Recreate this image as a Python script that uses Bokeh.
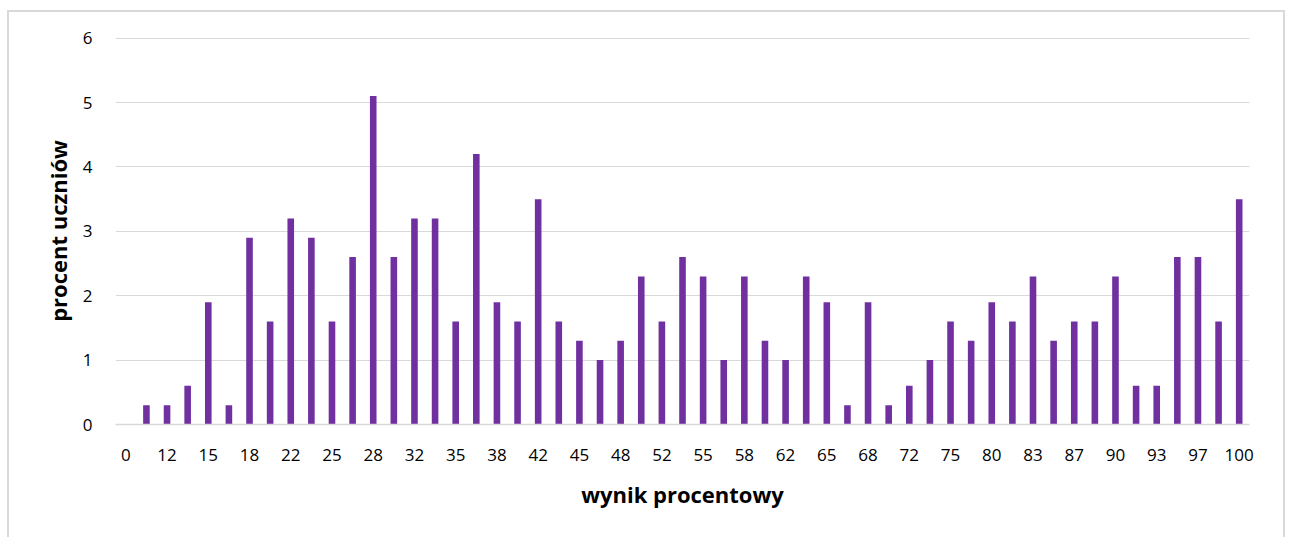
from bokeh.plotting import figure
from bokeh.models import ColumnDataSource, FixedTicker, Range1d
from bokeh.embed import file_html
from bokeh.resources import INLINE

categories = ["0", "10", "12", "13", "15", "17", "18", "20", "22", "23", "25", "27",
              "28", "30", "32", "33", "35", "37", "38", "40", "42", "43", "45", "47",
              "48", "50", "52", "53", "55", "57", "58", "60", "62", "63", "65", "67",
              "68", "70", "72", "73", "75", "78", "80", "82", "83", "85", "87", "88",
              "90", "92", "93", "95", "97", "98", "100"]
values = [0, 0.3, 0.3, 0.6, 1.9, 0.3, 2.9, 1.6, 3.2, 2.9, 1.6, 2.6, 5.1, 2.6, 3.2,
          3.2, 1.6, 4.2, 1.9, 1.6, 3.5, 1.6, 1.3, 1.0, 1.3, 2.3, 1.6, 2.6, 2.3, 1.0,
          2.3, 1.3, 1.0, 2.3, 1.9, 0.3, 1.9, 0.3, 0.6, 1.0, 1.6, 1.3, 1.9, 1.6, 2.3,
          1.3, 1.6, 1.6, 2.3, 0.6, 0.6, 2.6, 2.6, 1.6, 3.5]
y_ticks = [0, 1, 2, 3, 4, 5, 6]

idx = list(range(len(categories)))
src = ColumnDataSource(dict(x=idx, top=values, cat=categories))

p = figure(width=1278, height=527, output_backend="svg", toolbar_location=None,
           x_range=Range1d(-0.5, len(categories) - 0.5), y_range=Range1d(0, 6.01),
           min_border_left=106, min_border_right=38, min_border_top=25,
           min_border_bottom=115)
p.styles = {"border-top": "2px solid #d9d9d9", "border-left": "2px solid #d9d9d9",
            "border-right": "2px solid #d9d9d9", "box-sizing": "border-box",
            "margin-left": "7px", "margin-top": "10px"}
p.outline_line_color = None
p.background_fill_color = "white"
p.border_fill_color = "white"

p.vbar(x="x", top="top", width=0.32, source=src, fill_color="#7030A0",
       line_color=None)

shown = idx[::2]
p.xaxis.ticker = FixedTicker(ticks=shown)
p.xaxis.major_label_overrides = {i: categories[i] for i in shown}
p.yaxis.ticker = FixedTicker(ticks=y_ticks)

for ax in (p.xaxis[0], p.yaxis[0]):
    ax.major_tick_line_color = None
    ax.minor_tick_line_color = None
    ax.major_label_text_font = "Open Sans"
    ax.major_label_text_font_size = "17px"
    ax.major_label_text_color = "#000000"
    ax.axis_label_text_font = "Open Sans"
    ax.axis_label_text_font_size = "22px"
    ax.axis_label_text_font_style = "bold"
    ax.axis_label_text_color = "#000000"

p.xaxis.axis_line_color = "#d9d9d9"
p.xaxis.axis_line_width = 1.5
p.yaxis.axis_line_color = None
p.xaxis.major_label_standoff = 18
p.yaxis.major_label_standoff = 17
p.xaxis.axis_label = "wynik procentowy"
p.yaxis.axis_label = "procent uczniów"
p.xaxis.axis_label_standoff = 15
p.yaxis.axis_label_standoff = 7

p.xgrid.grid_line_color = None
p.ygrid.grid_line_color = "#d9d9d9"
p.ygrid.grid_line_width = 1.2

open("out.html", "w").write(file_html(p, INLINE))
